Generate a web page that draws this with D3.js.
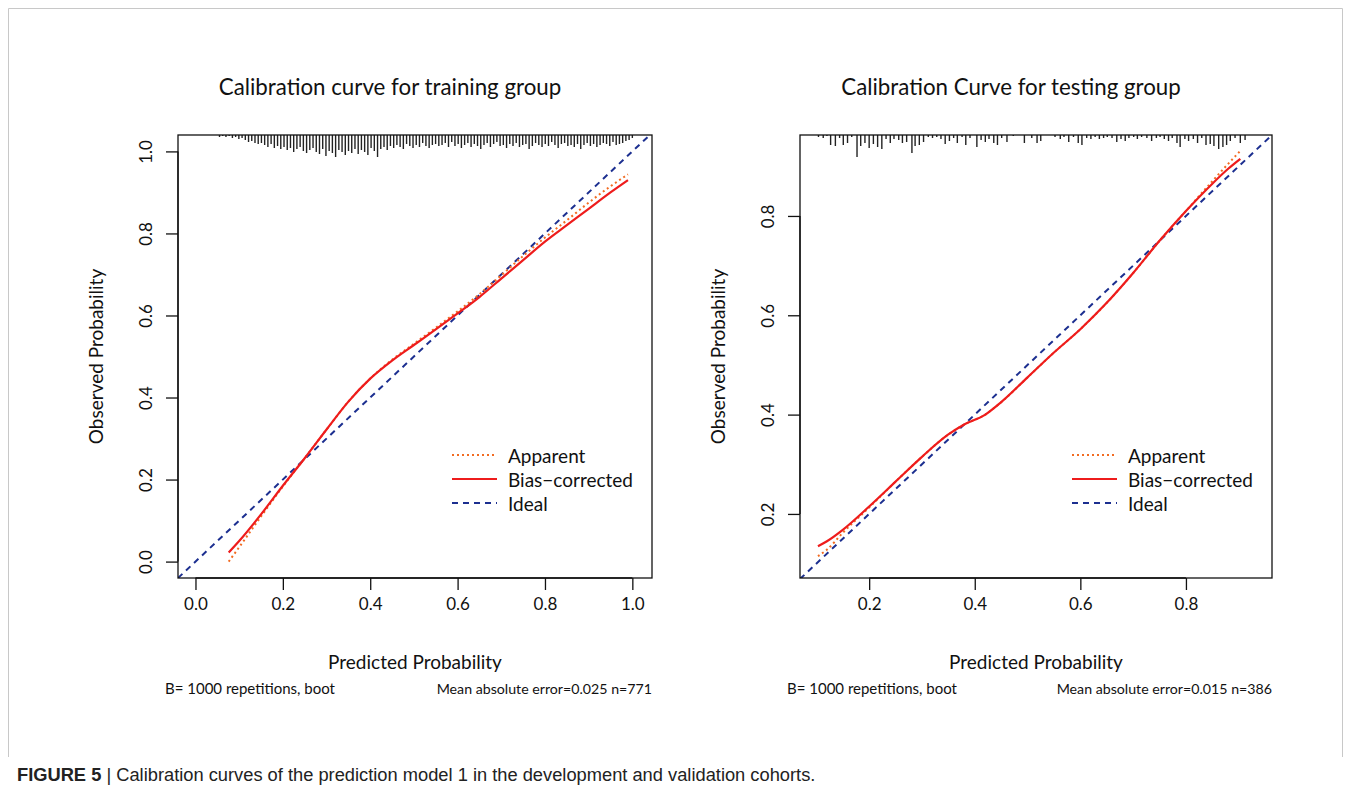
<!DOCTYPE html>
<html>
<head>
<meta charset="utf-8">
<script src="https://cdn.jsdelivr.net/npm/d3@7"></script>
<style>
  body { margin: 0; background: #fff; }
  svg { display: block; }
</style>
</head>
<body>
<svg id="chart" width="1351" height="790"></svg>
<script>
// ---- data ----
// training group
var trainX = [0.076, 0.10, 0.15, 0.20, 0.25, 0.30, 0.35, 0.40, 0.45, 0.50, 0.55, 0.60, 0.65, 0.70, 0.75, 0.80, 0.85, 0.90, 0.95, 0.99];
var trainBias = [0.022, 0.05, 0.115, 0.185, 0.252, 0.322, 0.39, 0.446, 0.49, 0.528, 0.566, 0.605, 0.645, 0.69, 0.735, 0.78, 0.82, 0.86, 0.90, 0.93];
var trainApparent = [0.0, 0.035, 0.11, 0.183, 0.252, 0.322, 0.39, 0.446, 0.492, 0.531, 0.57, 0.61, 0.652, 0.698, 0.745, 0.79, 0.832, 0.875, 0.915, 0.944];
// rug: spike lengths on a regular grid from 0.055 to 1.0
var trainRugFrom = 0.055, trainRugTo = 1.0;
var trainRug = [2,1,2,1,3,2,4,3,5,7,6,8,9,8,10,12,9,13,11,14,12,15,13,17,14,12,16,18,15,13,17,19,14,21,16,18,22,15,17,20,16,18,14,19,15,17,20,13,16,22,14,12,15,11,13,10,12,14,9,11,13,10,12,8,11,13,10,
  9,11,10,8,12,7,11,9,13,10,8,12,9,11,14,10,8,12,9,7,11,10,13,9,11,8,12,10,9,14,11,8,10,12,9,11,7,10,13,9,8,11,10,12,9,14,10,8,11,9,12,10,8,9,11,7,10,9,8,6,5,3];

// testing group
var testX = [0.103, 0.12, 0.15, 0.20, 0.25, 0.30, 0.35, 0.38, 0.42, 0.45, 0.50, 0.55, 0.60, 0.65, 0.70, 0.75, 0.80, 0.85, 0.88, 0.903];
var testBias = [0.135, 0.145, 0.168, 0.215, 0.265, 0.315, 0.36, 0.38, 0.40, 0.425, 0.475, 0.525, 0.572, 0.625, 0.685, 0.75, 0.81, 0.865, 0.895, 0.915];
var testApparent = [0.115, 0.128, 0.162, 0.213, 0.265, 0.315, 0.36, 0.38, 0.40, 0.425, 0.475, 0.525, 0.572, 0.625, 0.685, 0.75, 0.81, 0.87, 0.905, 0.931];
var testRugX = [0.104,0.113,0.120,0.127,0.136,0.144,0.151,0.159,0.167,0.177,0.184,0.192,0.200,0.208,0.216,0.224,0.232,0.240,0.247,0.256,
  0.263,0.271,0.281,0.287,0.295,0.303,0.312,0.320,0.328,0.336,0.344,0.352,0.360,0.367,0.376,0.383,0.391,0.404,0.412,0.420,
  0.427,0.436,0.443,0.451,0.461,0.473,0.494,0.508,0.518,0.525,0.552,0.562,0.569,0.578,0.587,0.596,0.603,0.612,0.620,0.628,
  0.636,0.644,0.651,0.660,0.669,0.677,0.685,0.692,0.701,0.708,0.716,0.726,0.735,0.744,0.751,0.759,0.767,0.774,0.783,0.789,
  0.798,0.805,0.814,0.822,0.830,0.838,0.846,0.853,0.862,0.870,0.877,0.884,0.893,0.903,0.912];
var testRugH = [2,3,1,10,11,3,10,8,2,22,11,8,13,9,12,14,4,8,4,5,
  8,7,18,11,10,7,2,3,2,4,9,6,3,8,2,10,3,12,5,7,
  4,8,10,3,7,1,8,3,8,6,2,4,2,7,2,8,10,3,4,2,
  4,3,2,3,7,4,6,3,2,4,2,3,6,3,2,4,6,3,8,12,
  4,6,4,8,3,10,9,11,14,12,10,6,3,8,5];

var trainTicks = [0.0, 0.2, 0.4, 0.6, 0.8, 1.0];
var testTicks = [0.2, 0.4, 0.6, 0.8];
var legendNames = ["Apparent", "Bias\u2212corrected", "Ideal"];

var FONT = "Lato, 'Open Sans', sans-serif";
var cApparent = "#f26b21", cBias = "#ee1c1c", cIdeal = "#1c2f90";

var svg = d3.select("#chart");

// light frame round the figure
svg.append("path")
  .attr("d", "M8.5,757 L8.5,8.5 L1342.5,8.5 L1342.5,757")
  .attr("fill", "none")
  .attr("stroke", "#c8c8c8")
  .attr("stroke-width", 1);

function drawPanel(p) {
  var g = svg.append("g");
  var x = d3.scaleLinear().domain(p.xDomain).range([p.left, p.right]);
  var y = d3.scaleLinear().domain(p.yDomain).range([p.bottom, p.top]);

  // title
  g.append("text")
    .attr("x", (p.left + p.right) / 2 - 25).attr("y", 95)
    .attr("text-anchor", "middle")
    .style("font-family", FONT).style("font-size", "22.3px").attr("fill", "#111")
    .text(p.title);

  // clip for lines
  var clipId = "clip" + p.id;
  svg.append("clipPath").attr("id", clipId)
    .append("rect").attr("x", p.left).attr("y", p.top)
    .attr("width", p.right - p.left).attr("height", p.bottom - p.top);

  var inner = g.append("g").attr("clip-path", "url(#" + clipId + ")");

  // ideal line
  inner.append("line")
    .attr("x1", x(p.xDomain[0])).attr("y1", y(p.xDomain[0]))
    .attr("x2", x(p.xDomain[1])).attr("y2", y(p.xDomain[1]))
    .attr("stroke", cIdeal).attr("stroke-width", 2)
    .attr("stroke-dasharray", "6,5");

  var line = d3.line().curve(d3.curveMonotoneX)
    .x(d => x(d[0])).y(d => y(d[1]));

  inner.append("path")
    .datum(p.xs.map((v, i) => [v, p.apparent[i]]))
    .attr("d", line).attr("fill", "none")
    .attr("stroke", cApparent).attr("stroke-width", 2)
    .attr("stroke-dasharray", "2,3");

  inner.append("path")
    .datum(p.xs.map((v, i) => [v, p.bias[i]]))
    .attr("d", line).attr("fill", "none")
    .attr("stroke", cBias).attr("stroke-width", 2.2);

  // rug along the top
  g.selectAll(".rug" + p.id)
    .data(p.rug)
    .enter().append("line")
    .attr("x1", d => x(d[0])).attr("x2", d => x(d[0]))
    .attr("y1", p.top).attr("y2", d => p.top + d[1])
    .attr("stroke", "#222").attr("stroke-width", 1.4);

  // box
  g.append("rect")
    .attr("x", p.left).attr("y", p.top)
    .attr("width", p.right - p.left).attr("height", p.bottom - p.top)
    .attr("fill", "none").attr("stroke", "#111").attr("stroke-width", 1.3);

  // x axis
  var xa = g.append("g").attr("transform", "translate(0," + p.bottom + ")")
    .call(d3.axisBottom(x).tickValues(p.ticks).tickSize(12).tickPadding(8).tickFormat(d3.format(".1f")));
  xa.select(".domain").attr("d", "M" + x(p.ticks[0]) + ",0H" + x(p.ticks[p.ticks.length - 1]))
    .attr("stroke", "#111").attr("stroke-width", 1.3);
  xa.selectAll(".tick line").attr("stroke", "#111").attr("stroke-width", 1.3);
  xa.selectAll(".tick text").style("font-family", FONT).style("font-size", "17px").attr("fill", "#111");

  // y axis with rotated labels
  var ya = g.append("g").attr("transform", "translate(" + p.left + ",0)")
    .call(d3.axisLeft(y).tickValues(p.ticks).tickSize(12).tickFormat(d3.format(".1f")));
  ya.select(".domain").attr("d", "M0," + y(p.ticks[0]) + "V" + y(p.ticks[p.ticks.length - 1]))
    .attr("stroke", "#111").attr("stroke-width", 1.3);
  ya.selectAll(".tick line").attr("stroke", "#111").attr("stroke-width", 1.3);
  ya.selectAll(".tick text")
    .attr("x", null).attr("dy", null)
    .attr("transform", "translate(-33,0) rotate(-90)")
    .attr("text-anchor", "middle")
    .attr("dominant-baseline", "central")
    .style("font-family", FONT).style("font-size", "17px").attr("fill", "#111");

  // axis titles
  g.append("text")
    .attr("transform", "translate(" + (p.left - 83) + "," + ((p.top + p.bottom) / 2) + ") rotate(-90)")
    .attr("text-anchor", "middle").attr("dominant-baseline", "central")
    .style("font-family", FONT).style("font-size", "19px").attr("fill", "#111")
    .text("Observed Probability");
  g.append("text")
    .attr("x", (p.left + p.right) / 2).attr("y", 669)
    .attr("text-anchor", "middle")
    .style("font-family", FONT).style("font-size", "19px").attr("fill", "#111")
    .text("Predicted Probability");

  // footnotes
  g.append("text")
    .attr("x", p.left - 13).attr("y", 694)
    .style("font-family", FONT).style("font-size", "15px").attr("fill", "#111")
    .text("B= 1000 repetitions, boot");
  g.append("text")
    .attr("x", p.right).attr("y", 694).attr("text-anchor", "end")
    .style("font-family", FONT).style("font-size", "14.2px").attr("fill", "#111")
    .text(p.note);

  // legend
  var styles = [
    {c: cApparent, dash: "2,3", w: 2},
    {c: cBias, dash: null, w: 2.2},
    {c: cIdeal, dash: "6,5", w: 2}
  ];
  var lg = g.append("g").attr("transform", "translate(" + (p.right - 200) + ",455)");
  legendNames.forEach((name, i) => {
    lg.append("line")
      .attr("x1", 0).attr("x2", 45).attr("y1", i * 24).attr("y2", i * 24)
      .attr("stroke", styles[i].c).attr("stroke-width", styles[i].w)
      .attr("stroke-dasharray", styles[i].dash);
    lg.append("text")
      .attr("x", 56).attr("y", i * 24).attr("dominant-baseline", "central")
      .style("font-family", FONT).style("font-size", "19px").attr("fill", "#111")
      .text(name);
  });
}

var trainRugScale = d3.scaleLinear().domain([0, trainRug.length - 1]).range([trainRugFrom, trainRugTo]);

drawPanel({
  id: "a", title: "Calibration curve for training group",
  left: 178, right: 652, top: 135, bottom: 578,
  xDomain: [-0.04, 1.045], yDomain: [-0.04, 1.04],
  xs: trainX, bias: trainBias, apparent: trainApparent,
  rug: trainRug.map((h, i) => [trainRugScale(i), h]),
  ticks: trainTicks,
  note: "Mean absolute error=0.025 n=771"
});

drawPanel({
  id: "b", title: "Calibration Curve for testing group",
  left: 800, right: 1272, top: 135, bottom: 578,
  xDomain: [0.069, 0.963], yDomain: [0.071, 0.963],
  xs: testX, bias: testBias, apparent: testApparent,
  rug: testRugX.map((v, i) => [v, testRugH[i]]),
  ticks: testTicks,
  note: "Mean absolute error=0.015 n=386"
});

// caption
var cap = svg.append("text").attr("x", 17).attr("y", 781)
  .style("font-family", "'Liberation Sans', Arial, sans-serif").style("font-size", "18.3px").attr("fill", "#222");
cap.append("tspan").style("font-weight", "bold").text("FIGURE 5");
cap.append("tspan").text(" | Calibration curves of the prediction model 1 in the development and validation cohorts.");
</script>
</body>
</html>
